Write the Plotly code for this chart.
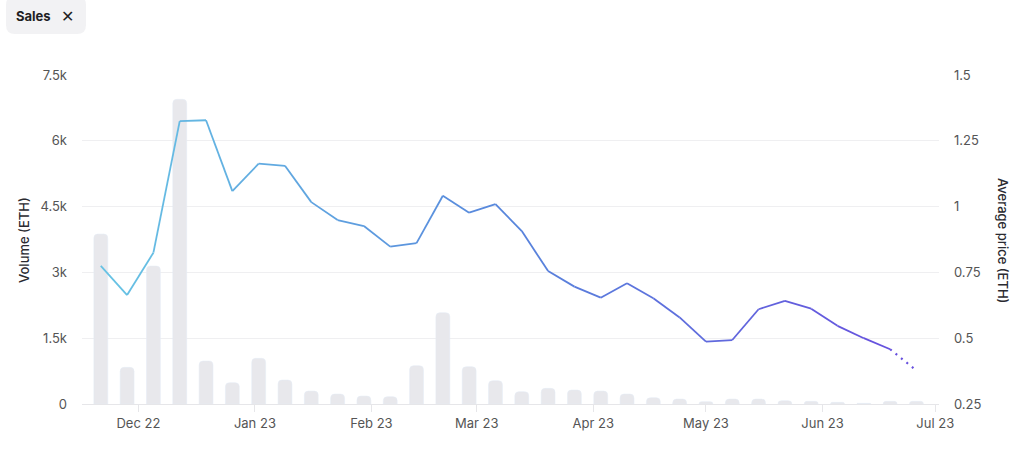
import plotly.graph_objects as go
import pandas as pd

weeks = pd.date_range("2022-11-21", periods=32, freq="7D")
volume = [3875, 836, 3146, 6946, 980, 486, 1041, 547, 296, 228, 182,
          167, 874, 2082, 851, 532, 281, 357, 319, 296, 228, 144,
          114, 53, 114, 114, 76, 61, 38, 15, 61, 61]
avg_price = [0.775, 0.664, 0.825, 1.325, 1.328, 1.059, 1.163, 1.155, 1.017, 0.949, 0.926,
             0.848, 0.861, 1.041, 0.977, 1.009, 0.907, 0.755, 0.696, 0.654, 0.709, 0.652,
             0.579, 0.487, 0.493, 0.610, 0.642, 0.612, 0.547, 0.500, 0.458, 0.377]
month_ticks = ["2022-12-01", "2023-01-01", "2023-02-01", "2023-03-01",
               "2023-04-01", "2023-05-01", "2023-06-01", "2023-07-01"]
month_labels = ["Dec 22", "Jan 23", "Feb 23", "Mar 23", "Apr 23", "May 23", "Jun 23", "Jul 23"]
vol_ticks = [0, 1500, 3000, 4500, 6000, 7500]
vol_labels = ["0", "1.5k", "3k", "4.5k", "6k", "7.5k"]
price_ticks = [0.25, 0.5, 0.75, 1, 1.25, 1.5]
price_labels = ["0.25", "0.5", "0.75", "1", "1.25", "1.5"]

stops = [(0.0, (104, 196, 228)), (0.5, (88, 134, 220)), (1.0, (104, 78, 222))]


def grad(t):
    for (t0, c0), (t1, c1) in zip(stops[:-1], stops[1:]):
        if t <= t1:
            f = (t - t0) / (t1 - t0)
            return "rgb(%d,%d,%d)" % tuple(round(a + (b - a) * f) for a, b in zip(c0, c1))
    return "rgb(%d,%d,%d)" % stops[-1][1]


fig = go.Figure()
fig.add_trace(go.Bar(x=weeks, y=volume, marker_color="#e8e8ec",
                     width=3.7 * 86400000, yaxis="y", hoverinfo="skip"))

n = len(weeks)
for i in range(n - 1):
    last = i == n - 2
    fig.add_trace(go.Scatter(
        x=weeks[i:i + 2], y=avg_price[i:i + 2], yaxis="y2", mode="lines",
        line=dict(color=grad((i + 0.5) / (n - 1)), width=1.8 if not last else 2.2,
                  dash="2px,5px" if last else "solid"),
        hoverinfo="skip"))

W, H = 1024, 450
l, r, t, b = 82, 85, 75, 46

fig.update_layout(
    width=W, height=H,
    margin=dict(l=l, r=r, t=t, b=b),
    paper_bgcolor="white", plot_bgcolor="white",
    showlegend=False,
    barcornerradius=4,
    font=dict(family="Inter, Roboto, sans-serif", size=13, color="#555"),
    xaxis=dict(type="date", range=["2022-11-16", "2023-07-02"],
               tickvals=month_ticks, ticktext=month_labels,
               showgrid=False, showline=True, linecolor="#e6e6e9", linewidth=1,
               ticks="outside", ticklen=7, tickcolor="#e6e6e9",
               tickfont=dict(size=13, color="#555"), zeroline=False),
    yaxis=dict(range=[0, 7500], tickvals=vol_ticks, ticktext=vol_labels,
               showgrid=True, gridcolor="#efeff1", zeroline=False,
               ticks="", ticklabelstandoff=14, tickfont=dict(size=13, color="#555")),
    yaxis2=dict(range=[0.25, 1.5], tickvals=price_ticks, ticktext=price_labels,
                overlaying="y", side="right", showgrid=False, zeroline=False,
                ticks="", ticklabelstandoff=14, tickfont=dict(size=13, color="#555")),
)

pw, ph = W - l - r, H - t - b


def px(x):
    return (x - l) / pw


def py(y):
    return (H - b - y) / ph


x0, x1, y0, y1, rad = 6, 86, -4, 34, 9
path = (f"M {px(x0+rad)} {py(y0)} L {px(x1-rad)} {py(y0)} "
        f"Q {px(x1)} {py(y0)} {px(x1)} {py(y0+rad)} L {px(x1)} {py(y1-rad)} "
        f"Q {px(x1)} {py(y1)} {px(x1-rad)} {py(y1)} L {px(x0+rad)} {py(y1)} "
        f"Q {px(x0)} {py(y1)} {px(x0)} {py(y1-rad)} L {px(x0)} {py(y0+rad)} "
        f"Q {px(x0)} {py(y0)} {px(x0+rad)} {py(y0)} Z")
fig.add_shape(type="path", xref="paper", yref="paper", path=path,
              fillcolor="#f2f2f4", line_width=0, layer="below")

common = dict(xref="paper", yref="paper", showarrow=False, xanchor="center", yanchor="middle")
fig.add_annotation(x=px(33), y=py(16), text="<b>Sales</b>",
                   font=dict(size=13, color="#1f1f24"), **common)
fig.add_annotation(x=px(67), y=py(16), text="✕",
                   font=dict(size=16, color="#1f1f24"), **common)
fig.add_annotation(x=px(24), y=py(240), text="Volume (ETH)", textangle=-90,
                   font=dict(size=13, color="#2a2a30", weight=500), **common)
fig.add_annotation(x=px(1003), y=py(240), text="Average price (ETH)", textangle=90,
                   font=dict(size=13, color="#2a2a30", weight=500), **common)

fig.write_html("out.html", config={"displayModeBar": False},
               post_script="document.body.style.margin='0';")
